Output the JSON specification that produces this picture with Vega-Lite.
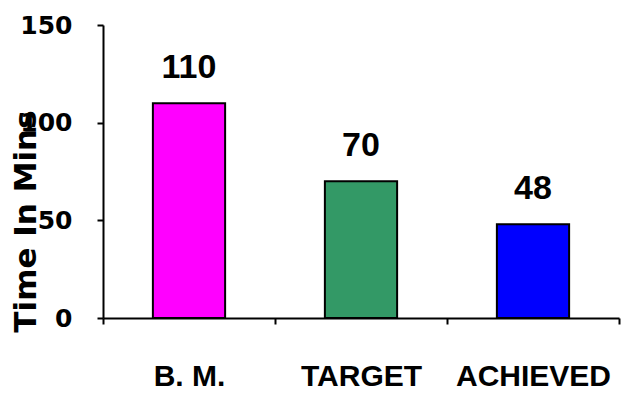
{
  "$schema": "https://vega.github.io/schema/vega-lite/v6.json",
  "autosize": {"type": "none"},
  "padding": {"left": 103, "top": 25, "right": 22, "bottom": 76},
  "width": 516,
  "height": 293,
  "background": "white",
  "data": {
    "values": [
      {"category": "B. M.", "minutes": 110},
      {"category": "TARGET", "minutes": 70},
      {"category": "ACHIEVED", "minutes": 48}
    ]
  },
  "config": {"view": {"stroke": null}},
  "encoding": {
    "x": {
      "field": "category",
      "type": "nominal",
      "sort": null,
      "scale": {"paddingInner": 0, "paddingOuter": 0},
      "axis": {
        "title": null,
        "labelAngle": 0,
        "labelFont": "Liberation Sans",
        "labelFontWeight": "bold",
        "labelFontSize": 30,
        "labelColor": "black",
        "labelBaseline": "top",
        "labelPadding": 37,
        "tickBand": "extent",
        "tickSize": 6,
        "tickColor": "black",
        "tickWidth": 2,
        "domainColor": "black",
        "domainWidth": 2,
        "labelOverlap": false,
        "labelLimit": 0
      }
    },
    "y": {
      "field": "minutes",
      "type": "quantitative",
      "scale": {"domain": [0, 150], "nice": false},
      "axis": {
        "title": "Time In Mins",
        "titleFont": "DejaVu Sans",
        "titleFontWeight": "bold",
        "titleFontSize": 31,
        "titleColor": "black",
        "titleAngle": 270,
        "titleAlign": "center",
        "titleBaseline": "middle",
        "titleX": -77,
        "titleY": 196,
        "values": [0, 50, 100, 150],
        "grid": false,
        "labelFont": "DejaVu Sans",
        "labelFontWeight": "bold",
        "labelFontSize": 25,
        "labelColor": "black",
        "labelPadding": 25,
        "tickSize": 6,
        "tickColor": "black",
        "tickWidth": 2,
        "domainColor": "black",
        "domainWidth": 2
      }
    }
  },
  "layer": [
    {
      "mark": {"type": "bar", "width": {"band": 0.42}, "stroke": "black", "strokeWidth": 2},
      "encoding": {
        "color": {
          "field": "category",
          "type": "nominal",
          "scale": {"domain": ["B. M.", "TARGET", "ACHIEVED"], "range": ["#FF00FF", "#339966", "#0000FF"]},
          "legend": null
        }
      }
    },
    {
      "mark": {"type": "text", "baseline": "alphabetic", "dy": -25, "font": "Liberation Sans", "fontWeight": "bold", "fontSize": 34, "color": "black"},
      "encoding": {"text": {"field": "minutes", "type": "quantitative"}}
    }
  ]
}
